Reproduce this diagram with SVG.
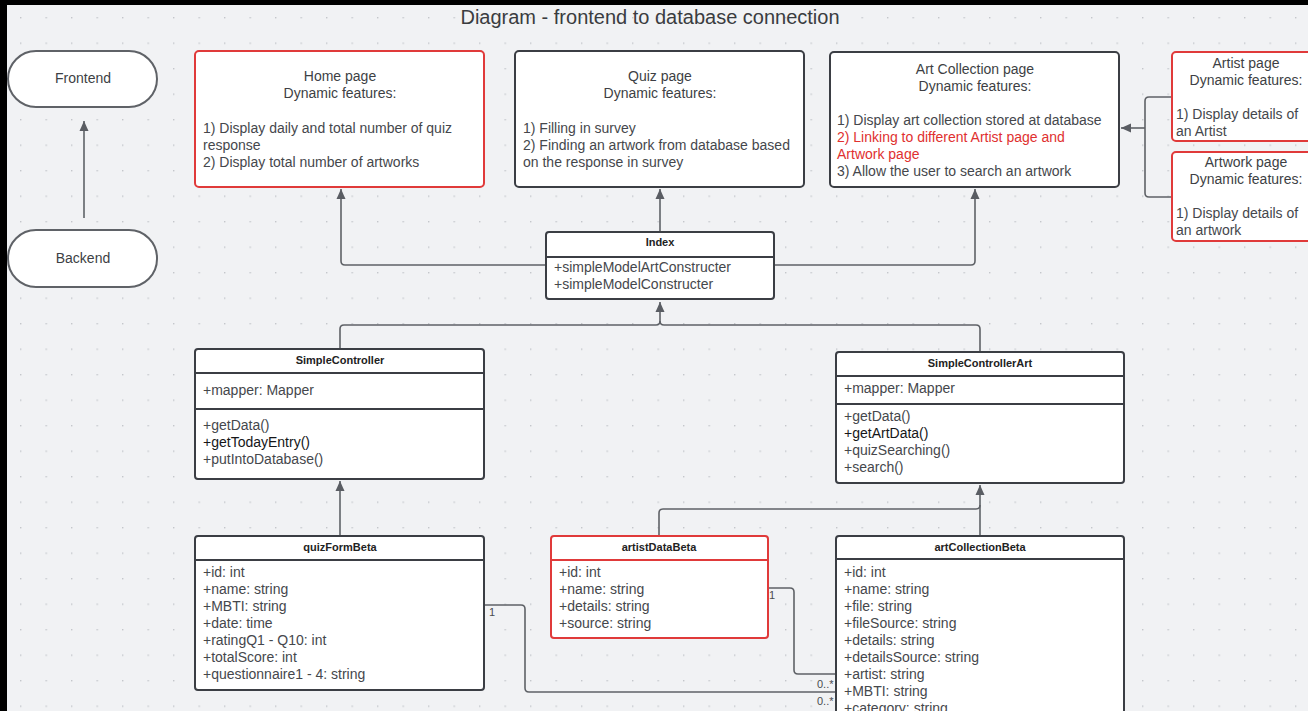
<svg xmlns="http://www.w3.org/2000/svg" width="1308" height="711" viewBox="0 0 1308 711">
<defs>
<pattern id="grid" x="20" y="17" width="25.5" height="25.5" patternUnits="userSpaceOnUse">
<rect x="0" y="0" width="1.4" height="1.4" fill="#c3c6cb"/>
</pattern>
<marker id="arr" viewBox="0 0 10 10" refX="10" refY="5" markerWidth="10" markerHeight="10" markerUnits="userSpaceOnUse" orient="auto">
<path d="M0,0.5 L10,5 L0,9.5 z" fill="#5a5d63"/>
</marker>
<style>
.bg{fill:#f1f2f4}
.box{fill:#ffffff;stroke:#3b3e44;stroke-width:2}
.red{fill:#ffffff;stroke:#e03a3a;stroke-width:2}
.div{stroke:#3b3e44;stroke-width:2}
.divr{stroke:#e03a3a;stroke-width:2}
.pill{fill:#ffffff;stroke:#5f6267;stroke-width:2}
.t{font-family:"Liberation Sans",Arial,sans-serif;font-size:14px;fill:#45474c}
.tc{font-family:"Liberation Sans",Arial,sans-serif;font-size:14px;fill:#3d3f44;text-anchor:middle}
.tr{font-family:"Liberation Sans",Arial,sans-serif;font-size:14px;fill:#e0302f}
.dk{fill:#151618}
.h{font-family:"Liberation Sans",Arial,sans-serif;font-size:11px;font-weight:bold;fill:#222;text-anchor:middle}
.title{font-family:"Liberation Sans",Arial,sans-serif;font-size:20px;fill:#3a3c40;text-anchor:middle}
.lab{font-family:"Liberation Sans",Arial,sans-serif;font-size:11px;fill:#4a4c50}
.c{fill:none;stroke:#5f6267;stroke-width:1.6}
</style>
</defs>
<rect class="bg" x="0" y="0" width="1308" height="711"/>
<rect x="0" y="0" width="1308" height="711" fill="url(#grid)"/>
<rect x="0" y="0" width="1308" height="5" fill="#000"/>
<rect x="0" y="0" width="7" height="711" fill="#000"/>

<text class="title" x="650" y="24">Diagram - frontend to database connection</text>

<g id="connectors">
<path class="c" d="M84,218 V121" marker-end="url(#arr)"/>
<path class="c" d="M546,265 H345 Q341,265 341,261 V189" marker-end="url(#arr)"/>
<path class="c" d="M660,231 V189" marker-end="url(#arr)"/>
<path class="c" d="M774,265 H971 Q975,265 975,261 V189" marker-end="url(#arr)"/>
<path class="c" d="M1172,97 H1149 Q1145,97 1145,101 V193 Q1145,197 1149,197 H1172"/>
<path class="c" d="M1145,128 H1121" marker-end="url(#arr)"/>
<path class="c" d="M340,349 V329 Q340,325 344,325 H656 Q660,325 660,321 V302" marker-end="url(#arr)"/>
<path class="c" d="M980,352 V329 Q980,325 976,325 H664 Q660,325 660,321"/>
<path class="c" d="M340,536 V481" marker-end="url(#arr)"/>
<path class="c" d="M980,536 V485" marker-end="url(#arr)"/>
<path class="c" d="M659,536 V513 Q659,509 663,509 H976 Q980,509 980,505"/>
<path class="c" d="M484,605 H521 Q525,605 525,609 V688 Q525,692 529,692 H836"/>
<path class="c" d="M768,588 H790 Q794,588 794,592 V670 Q794,674 798,674 H836"/>
<text class="lab" x="489" y="616">1</text>
<text class="lab" x="769" y="599">1</text>
<text class="lab" x="817" y="688">0..*</text>
<text class="lab" x="817" y="705">0..*</text>
</g>

<g id="frontend">
<rect class="pill" x="8" y="51" width="149" height="56" rx="28"/>
<text class="tc" x="83" y="83">Frontend</text>
</g>
<g id="backend">
<rect class="pill" x="8" y="230" width="149" height="57" rx="28"/>
<text class="tc" x="83" y="263">Backend</text>
</g>

<g id="home-page">
<rect class="red" x="195" y="51" width="289" height="136" rx="4"/>
<text class="tc" x="340" y="81">Home page</text>
<text class="tc" x="340" y="98">Dynamic features:</text>
<text class="t" x="203" y="133">1) Display daily and total number of quiz</text>
<text class="t" x="203" y="150">response</text>
<text class="t" x="203" y="167">2) Display total number of artworks</text>
</g>

<g id="quiz-page">
<rect class="box" x="515" y="51" width="289" height="136" rx="4"/>
<text class="tc" x="660" y="81">Quiz page</text>
<text class="tc" x="660" y="98">Dynamic features:</text>
<text class="t" x="523" y="133">1) Filling in survey</text>
<text class="t" x="523" y="150">2) Finding an artwork from database based</text>
<text class="t" x="523" y="167">on the response in survey</text>
</g>

<g id="art-collection-page">
<rect class="box" x="830" y="52" width="289" height="135" rx="4"/>
<text class="tc" x="975" y="74">Art Collection page</text>
<text class="tc" x="975" y="91">Dynamic features:</text>
<text class="t" x="837" y="125">1) Display art collection stored at database</text>
<text class="tr" x="837" y="142">2) Linking to different Artist page and</text>
<text class="tr" x="837" y="159">Artwork page</text>
<text class="t" x="837" y="176">3) Allow the user to search an artwork</text>
</g>

<g id="artist-page">
<rect class="red" x="1172" y="52" width="150" height="89" rx="4"/>
<text class="tc" x="1246" y="68">Artist page</text>
<text class="tc" x="1246" y="85">Dynamic features:</text>
<text class="t" x="1176" y="119">1) Display details of</text>
<text class="t" x="1176" y="136">an Artist</text>
</g>

<g id="artwork-page">
<rect class="red" x="1172" y="152" width="150" height="89" rx="4"/>
<text class="tc" x="1246" y="167">Artwork page</text>
<text class="tc" x="1246" y="184">Dynamic features:</text>
<text class="t" x="1176" y="218">1) Display details of</text>
<text class="t" x="1176" y="235">an artwork</text>
</g>

<g id="index">
<rect class="box" x="546" y="232" width="228" height="67" rx="3"/>
<line class="div" x1="546" y1="257" x2="774" y2="257"/>
<text class="h" x="660" y="246">Index</text>
<text class="t" x="554" y="272">+simpleModelArtConstructer</text>
<text class="t" x="554" y="289">+simpleModelConstructer</text>
</g>

<g id="simple-controller">
<rect class="box" x="195" y="349" width="289" height="130" rx="3"/>
<line class="div" x1="195" y1="373" x2="484" y2="373"/>
<line class="div" x1="195" y1="409" x2="484" y2="409"/>
<text class="h" x="340" y="364">SimpleController</text>
<text class="t" x="203" y="395">+mapper: Mapper</text>
<text class="t" x="203" y="430">+getData()</text>
<text class="t dk" x="203" y="447">+getTodayEntry()</text>
<text class="t" x="203" y="464">+putIntoDatabase()</text>
</g>

<g id="simple-controller-art">
<rect class="box" x="836" y="352" width="288" height="131" rx="3"/>
<line class="div" x1="836" y1="376" x2="1124" y2="376"/>
<line class="div" x1="836" y1="404" x2="1124" y2="404"/>
<text class="h" x="980" y="367">SimpleControllerArt</text>
<text class="t" x="844" y="393">+mapper: Mapper</text>
<text class="t" x="844" y="421">+getData()</text>
<text class="t dk" x="844" y="438">+getArtData()</text>
<text class="t" x="844" y="455">+quizSearching()</text>
<text class="t" x="844" y="472">+search()</text>
</g>

<g id="quiz-form-beta">
<rect class="box" x="195" y="536" width="289" height="154" rx="3"/>
<line class="div" x1="195" y1="560" x2="484" y2="560"/>
<text class="h" x="340" y="551">quizFormBeta</text>
<text class="t" x="203" y="577">+id: int</text>
<text class="t" x="203" y="594">+name: string</text>
<text class="t" x="203" y="611">+MBTI: string</text>
<text class="t" x="203" y="628">+date: time</text>
<text class="t" x="203" y="645">+ratingQ1 - Q10: int</text>
<text class="t" x="203" y="662">+totalScore: int</text>
<text class="t" x="203" y="679">+questionnaire1 - 4: string</text>
</g>

<g id="artist-data-beta">
<rect class="red" x="551" y="536" width="217" height="102" rx="3"/>
<line class="divr" x1="551" y1="560" x2="768" y2="560"/>
<text class="h" x="659" y="551">artistDataBeta</text>
<text class="t" x="559" y="577">+id: int</text>
<text class="t" x="559" y="594">+name: string</text>
<text class="t" x="559" y="611">+details: string</text>
<text class="t" x="559" y="628">+source: string</text>
</g>

<g id="art-collection-beta">
<rect class="box" x="836" y="536" width="288" height="190" rx="3"/>
<line class="div" x1="836" y1="559" x2="1124" y2="559"/>
<text class="h" x="980" y="551">artCollectionBeta</text>
<text class="t" x="844" y="577">+id: int</text>
<text class="t" x="844" y="594">+name: string</text>
<text class="t" x="844" y="611">+file: string</text>
<text class="t" x="844" y="628">+fileSource: string</text>
<text class="t" x="844" y="645">+details: string</text>
<text class="t" x="844" y="662">+detailsSource: string</text>
<text class="t" x="844" y="679">+artist: string</text>
<text class="t" x="844" y="696">+MBTI: string</text>
<text class="t" x="844" y="713">+category: string</text>
</g>
</svg>
